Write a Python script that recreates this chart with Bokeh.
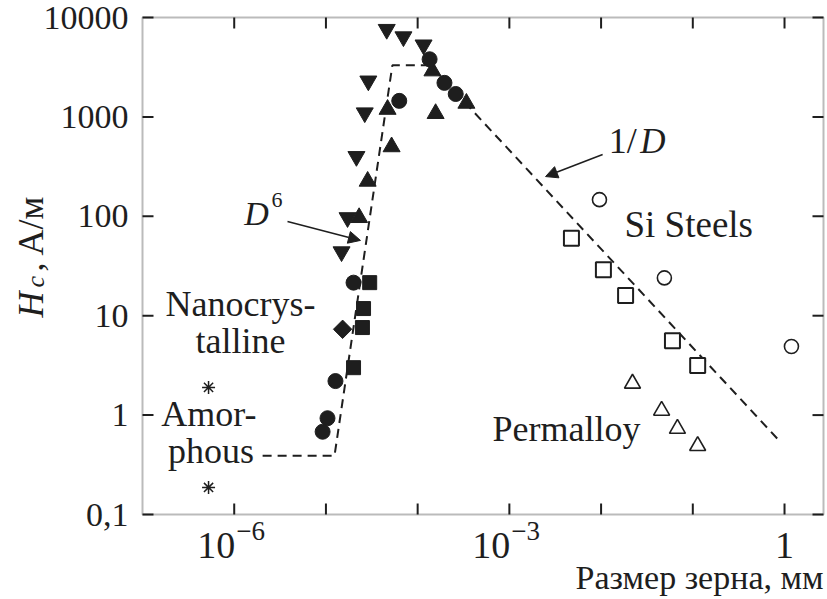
import math
from bokeh.plotting import figure
from bokeh.models import Label, Arrow, NormalHead, BoxAnnotation, Range1d
from bokeh.embed import file_html
from bokeh.resources import INLINE

# ---- data: coercive force Hc (A/m) versus grain size D (mm) ----
# nanocrystalline alloys (filled symbols)
down_tri_x = [4.6e-5, 7.0e-5, 1.16e-4, 2.9e-5, 2.65e-5, 2.15e-5, 1.72e-5, 1.48e-5]
down_tri_y = [7600, 6400, 5300, 2300, 1100, 400, 97, 44]
up_tri_x = [1.45e-4, 4.7e-5, 1.57e-4, 3.4e-4, 5.2e-5, 2.85e-5, 2.3e-5]
up_tri_y = [2900, 1190, 1080, 1370, 500, 225, 97]
circle_x = [1.35e-4, 1.96e-4, 2.6e-4, 6.3e-5, 2.0e-5, 1.27e-5, 1.04e-5, 9.2e-6]
circle_y = [3800, 2200, 1700, 1450, 21.5, 2.2, 0.93, 0.68]
square_x = [3.0e-5, 2.57e-5, 2.5e-5, 2.0e-5]
square_y = [21.5, 11.8, 7.6, 3.0]
diamond_x = [1.52e-5]
diamond_y = [7.3]
# amorphous alloys
amorph_x = [5.25e-7, 5.25e-7]
amorph_y = [1.9, 0.187]
# Si steels (open circles and open squares)
si_circle_x = [9.6e-3, 0.049, 1.19]
si_circle_y = [147, 24, 4.9]
si_square_x = [4.75e-3, 0.0106, 0.0185, 0.060, 0.113]
si_square_y = [60, 29, 16, 5.6, 3.15]
# permalloy (open triangles)
perm_x = [0.022, 0.0457, 0.068, 0.113]
perm_y = [2.08, 1.11, 0.73, 0.49]
# trend: flat, D^6 rise, plateau, 1/D decay
trend_x = [2.04e-6, 1.24e-5, 5.3e-5, 1.38e-4, 0.88]
trend_y = [0.39, 0.39, 3300, 3300, 0.55]

# axes
x_lo, x_hi = 1e-7, 10 ** 0.425
y_lo, y_hi = 0.1, 1e4
x_ticks = [1e-6, 1e-5, 1e-4, 1e-3, 1e-2, 1e-1, 1]
y_ticks = [0.1, 1, 10, 100, 1000, 10000]
y_tick_labels = ["0,1", "1", "10", "100", "1000", "10000"]
x_label_vals = [1e-6, 1e-3, 1]
x_label_base = ["10", "10", "1"]
x_label_exp = ["\u22126", "\u22123", ""]

INK = "#1e1e1e"
SERIF = "Liberation Serif"

# page geometry (pixels): the data box sits inside a canvas-wide frame so
# that tick labels and titles around it can be drawn as plain labels
W, H = 827, 599
BOX_L, BOX_R, BOX_T, BOX_B = 142, 823, 17, 514
# lift that puts the glyph baseline on the anchor point
BASE_LIFT = 12

lx0, lx1 = math.log10(x_lo), math.log10(x_hi)
ly0, ly1 = math.log10(y_lo), math.log10(y_hi)
kx = (lx1 - lx0) / (BOX_R - BOX_L)
ky = (ly1 - ly0) / (BOX_B - BOX_T)
x_range = Range1d(10 ** (lx0 - BOX_L * kx), 10 ** (lx1 + (W - BOX_R) * kx))
y_range = Range1d(10 ** (ly0 - (H - BOX_B) * ky), 10 ** (ly1 + BOX_T * ky))

p = figure(width=W, height=H, x_axis_type="log", y_axis_type="log",
           x_axis_location=None, y_axis_location=None,
           x_range=x_range, y_range=y_range,
           output_backend="svg", toolbar_location=None, min_border=0)
p.grid.visible = False
p.outline_line_color = None
p.background_fill_color = "white"
p.border_fill_color = "white"

# frame and inward ticks on all four sides
p.add_layout(BoxAnnotation(left=x_lo, right=x_hi, bottom=y_lo, top=y_hi,
                           fill_alpha=0, line_color=INK, line_width=2))
TICK = 11
nx, ny = len(x_ticks), len(y_ticks)
p.ray(x=x_ticks, y=[y_lo] * nx, length=TICK, length_units="screen",
      angle=math.pi / 2, line_color=INK, line_width=2)
p.ray(x=x_ticks, y=[y_hi] * nx, length=TICK, length_units="screen",
      angle=-math.pi / 2, line_color=INK, line_width=2)
p.ray(x=[x_lo] * ny, y=y_ticks, length=TICK, length_units="screen",
      angle=0, line_color=INK, line_width=2)
p.ray(x=[x_hi] * ny, y=y_ticks, length=TICK, length_units="screen",
      angle=math.pi, line_color=INK, line_width=2)

# trend line
p.line(trend_x, trend_y, line_color=INK, line_width=2, line_dash="9 6")

# filled markers
p.scatter(down_tri_x, down_tri_y, marker="inverted_triangle", size=17,
          fill_color=INK, line_color=INK)
p.scatter(up_tri_x, up_tri_y, marker="triangle", size=17,
          fill_color=INK, line_color=INK)
p.scatter(circle_x, circle_y, marker="circle", size=15,
          fill_color=INK, line_color=INK)
p.scatter(square_x, square_y, marker="square", size=14,
          fill_color=INK, line_color=INK)
p.scatter(diamond_x, diamond_y, marker="square", size=13, angle=math.pi / 4,
          fill_color=INK, line_color=INK)
p.scatter(amorph_x, amorph_y, marker="asterisk", size=13,
          line_color=INK, line_width=1.5)

# open markers
p.scatter(si_circle_x, si_circle_y, marker="circle", size=14,
          fill_color="white", line_color=INK, line_width=1.6)
p.scatter(si_square_x, si_square_y, marker="square", size=15,
          fill_color="white", line_color=INK, line_width=2)
p.scatter(perm_x, perm_y, marker="triangle", size=16,
          fill_color="white", line_color=INK, line_width=1.6)


def text(x, y, s, size, dx=0, dy=0, rotated=False, **kw):
    """Place a label whose alphabetic baseline starts at (x, y) + (dx, dy) px."""
    if rotated:
        kw.update(angle=math.pi / 2, x_offset=dx - BASE_LIFT, y_offset=dy)
    else:
        kw.update(x_offset=dx, y_offset=dy + BASE_LIFT)
    opts = dict(text_font=SERIF, text_font_size=size, text_color=INK,
                text_baseline="alphabetic", text_align="left")
    opts.update(kw)
    p.add_layout(Label(x=x, y=y, text=s, **opts))


# region captions
text(1.17e-6, 10.0, "Nanocrys-", "36px", text_align="center")
text(1.17e-6, 4.17, "talline", "36px", text_align="center")
text(5.3e-7, 0.785, "Amor-", "36px", text_align="center")
text(5.6e-7, 0.326, "phous", "36px", text_align="center")
text(0.018, 62.7, "Si Steels", "37px")
text(6.56e-4, 0.555, "Permalloy", "36px")

# slope annotations
text(1.29e-6, 80.8, "D", "34px", text_font_style="italic")
text(2.55e-6, 110, "6", "22px")
text(0.0121, 429, "1/", "36px")
text(0.0268, 429, "D", "35px", text_font_style="italic")

head = dict(size=12, fill_color=INK, line_color=INK)
p.add_layout(Arrow(x_start=3.81e-6, y_start=88.7, x_end=2.38e-5, y_end=57.2,
                   end=NormalHead(**head), line_color=INK, line_width=1.5))
p.add_layout(Arrow(x_start=0.0104, y_start=419, x_end=2.48e-3, y_end=251,
                   end=NormalHead(**head), line_color=INK, line_width=1.5))

# y tick labels (vertically centred on the ticks)
for v, s in zip(y_ticks, y_tick_labels):
    p.add_layout(Label(x=x_lo, y=v, text=s, x_offset=-14,
                       text_font=SERIF, text_font_size="34px", text_color=INK,
                       text_align="right", text_baseline="middle"))

# x tick labels with exponents
for v, b, e in zip(x_label_vals, x_label_base, x_label_exp):
    if e:
        text(v, y_lo, b, "38px", dx=1, dy=-43, text_align="right")
        text(v, y_lo, e, "27px", dx=2, dy=-28)
    else:
        text(v, y_lo, b, "38px", dy=-43, text_align="center")

# axis titles
text(x_hi, y_lo, "Размер зерна, мм", "34px", dy=-75, text_align="right")
text(x_lo, y_lo, "H", "36px", dx=-100, dy=197, rotated=True,
     text_font_style="italic")
text(x_lo, y_lo, "c", "26px", dx=-95, dy=227, rotated=True,
     text_font_style="italic")
text(x_lo, y_lo, ", A/м", "36px", dx=-100, dy=243, rotated=True)

open("out.html", "w").write(file_html(p, INLINE))
